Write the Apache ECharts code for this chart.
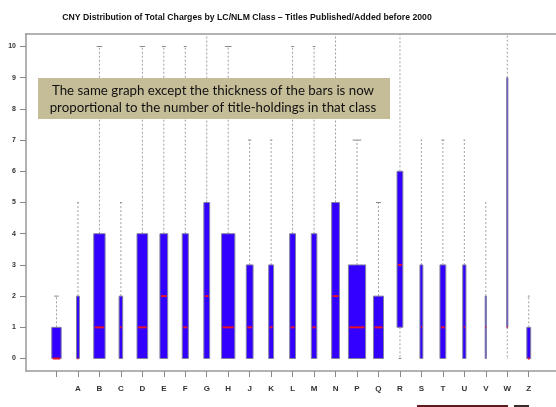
<!DOCTYPE html>
<html>
<head>
<meta charset="utf-8">
<script src="https://cdn.jsdelivr.net/npm/echarts@6/dist/echarts.min.js"></script>
<style>
  html, body { margin: 0; padding: 0; background: #fff; }
  #chart { width: 556px; height: 407px; }
</style>
</head>
<body>
<div id="chart"></div>
<script>
// LC/NLM classes (first one has no letter)
var classes = ['', 'A', 'B', 'C', 'D', 'E', 'F', 'G', 'H', 'J', 'K', 'L', 'M', 'N', 'P', 'Q', 'R', 'S', 'T', 'U', 'V', 'W', 'Z'];
// title-holdings per class (box width ~ sqrt of this)
var holdings = [300, 29, 437, 44, 386, 204, 127, 115, 599, 156, 80, 115, 104, 204, 1000, 339, 115, 29, 115, 35, 5, 5, 51];
var whiskerLow = [0, 0, 0, 0, 0, 0, 0, 0, 0, 0, 0, 0, 0, 0, 0, 0, 0, 0, 0, 0, 0, 0, 0];
var lowerQuart = [0, 0, 0, 0, 0, 0, 0, 0, 0, 0, 0, 0, 0, 0, 0, 0, 1, 0, 0, 0, 0, 1, 0];
var medians = [0, 0, 1, 1, 1, 2, 1, 2, 1, 1, 1, 1, 1, 2, 1, 1, 3, 1, 1, 1, 1, 1, 0];
var upperQuart = [1, 2, 4, 2, 4, 4, 4, 5, 4, 3, 3, 4, 4, 5, 3, 2, 6, 3, 3, 3, 2, 9, 1];
var whiskerHigh = [2, 5, 10, 5, 10, 10, 10, 12, 10, 7, 7, 10, 10, 12, 7, 5, 12, 7, 7, 7, 5, 12, 2];
var yTicks = [0, 1, 2, 3, 4, 5, 6, 7, 8, 9, 10];

var maxHold = Math.max.apply(null, holdings);
var boxData = classes.map(function (c, i) {
    var w = 0.8 * Math.sqrt(holdings[i] / maxHold);
    return [i + 1, whiskerLow[i], lowerQuart[i], medians[i], upperQuart[i], whiskerHigh[i], w];
});
var xPositions = classes.map(function (c, i) { return i + 1; });

function renderBox(params, api) {
    var x = api.value(0);
    var lo = api.value(1), q1 = api.value(2), md = api.value(3), q3 = api.value(4), hi = api.value(5);
    var w = api.value(6);
    var pTop = api.coord([x, hi]);
    var pQ3 = api.coord([x, q3]);
    var pQ1 = api.coord([x, q1]);
    var pLo = api.coord([x, lo]);
    var pMd = api.coord([x, md]);
    var half = api.size([w, 0])[0] / 2;
    var cx = pQ3[0];
    var kids = [];
    var dashStyle = { stroke: '#a0a0a0', lineWidth: 1, lineDash: [2, 2] };
    var capStyle = { stroke: '#8a8a8a', lineWidth: 1 };
    if (hi > q3) {
        kids.push({ type: 'line', shape: { x1: cx, y1: pQ3[1], x2: cx, y2: pTop[1] }, style: dashStyle });
        kids.push({ type: 'line', shape: { x1: cx - half / 2, y1: pTop[1], x2: cx + half / 2, y2: pTop[1] }, style: capStyle });
    }
    if (lo < q1) {
        kids.push({ type: 'line', shape: { x1: cx, y1: pQ1[1], x2: cx, y2: pLo[1] }, style: dashStyle });
        kids.push({ type: 'line', shape: { x1: cx - half / 2, y1: pLo[1], x2: cx + half / 2, y2: pLo[1] }, style: capStyle });
    }
    kids.push({
        type: 'rect',
        shape: { x: cx - half, y: pQ3[1], width: half * 2, height: pQ1[1] - pQ3[1] },
        style: { fill: '#3300ff', stroke: '#8080a0', lineWidth: 1 }
    });
    kids.push({
        type: 'line',
        shape: { x1: cx - half + 1, y1: pMd[1], x2: cx + half - 1, y2: pMd[1] },
        style: { stroke: '#e8102a', lineWidth: 2 }
    });
    return { type: 'group', children: kids };
}

var myChart = echarts.init(document.getElementById('chart'));
var option = {
    animation: false,
    title: {
        text: 'CNY Distribution of Total Charges by LC/NLM Class \u2013 Titles Published/Added before 2000',
        left: 242,
        top: 8,
        textAlign: 'center',
        textStyle: { fontFamily: 'Liberation Sans', fontSize: 8.7, fontWeight: 'bold', color: '#111' }
    },
    grid: {
        left: 26,
        top: 34,
        right: 0,
        height: 337
    },
    xAxis: {
        type: 'value',
        min: -0.42,
        max: 24.27,
        axisLine: { show: true, onZero: false, lineStyle: { color: '#999', width: 1.5 } },
        splitLine: { show: false },
        axisTick: { show: true, length: 6, customValues: xPositions, lineStyle: { color: '#888' } },
        axisLabel: {
            customValues: xPositions,
            margin: 14,
            fontFamily: 'Liberation Sans',
            fontSize: 8,
            fontWeight: 'bold',
            color: '#333',
            formatter: function (v) { return classes[Math.round(v) - 1] || ''; }
        }
    },
    yAxis: {
        type: 'value',
        min: -0.4,
        max: 10.4,
        axisLine: { show: true, onZero: false, lineStyle: { color: '#999', width: 1.5 } },
        splitLine: { show: false },
        axisTick: { show: true, length: 6, customValues: yTicks, lineStyle: { color: '#888' } },
        axisLabel: {
            customValues: yTicks,
            margin: 10,
            fontFamily: 'Liberation Sans',
            fontSize: 7,
            fontWeight: 'bold',
            color: '#333'
        }
    },
    series: [{
        type: 'custom',
        clip: true,
        renderItem: renderBox,
        encode: { x: 0, y: [1, 2, 3, 4, 5] },
        data: boxData
    }],
    graphic: [
        {
            type: 'line',
            shape: { x1: 25, y1: 34, x2: 556, y2: 34 },
            style: { stroke: '#999', lineWidth: 1.5 }
        },
        {
            type: 'rect',
            shape: { x: 38, y: 78, width: 352, height: 41 },
            style: { fill: '#c4bd97' },
            z: 10
        },
        {
            type: 'text',
            x: 213,
            y: 99,
            style: {
                text: 'The same graph except the thickness of the bars is now\nproportional to the number of title-holdings in that class',
                align: 'center',
                verticalAlign: 'middle',
                fontFamily: 'Lato',
                fontSize: 13.3,
                lineHeight: 17,
                fill: '#111'
            },
            z: 11
        },
        { type: 'rect', shape: { x: 417, y: 405, width: 91, height: 2 }, style: { fill: '#5a1e1e' } },
        { type: 'rect', shape: { x: 514, y: 405, width: 15, height: 2 }, style: { fill: '#3a2a2a' } }
    ]
};
myChart.setOption(option);
</script>
</body>
</html>
